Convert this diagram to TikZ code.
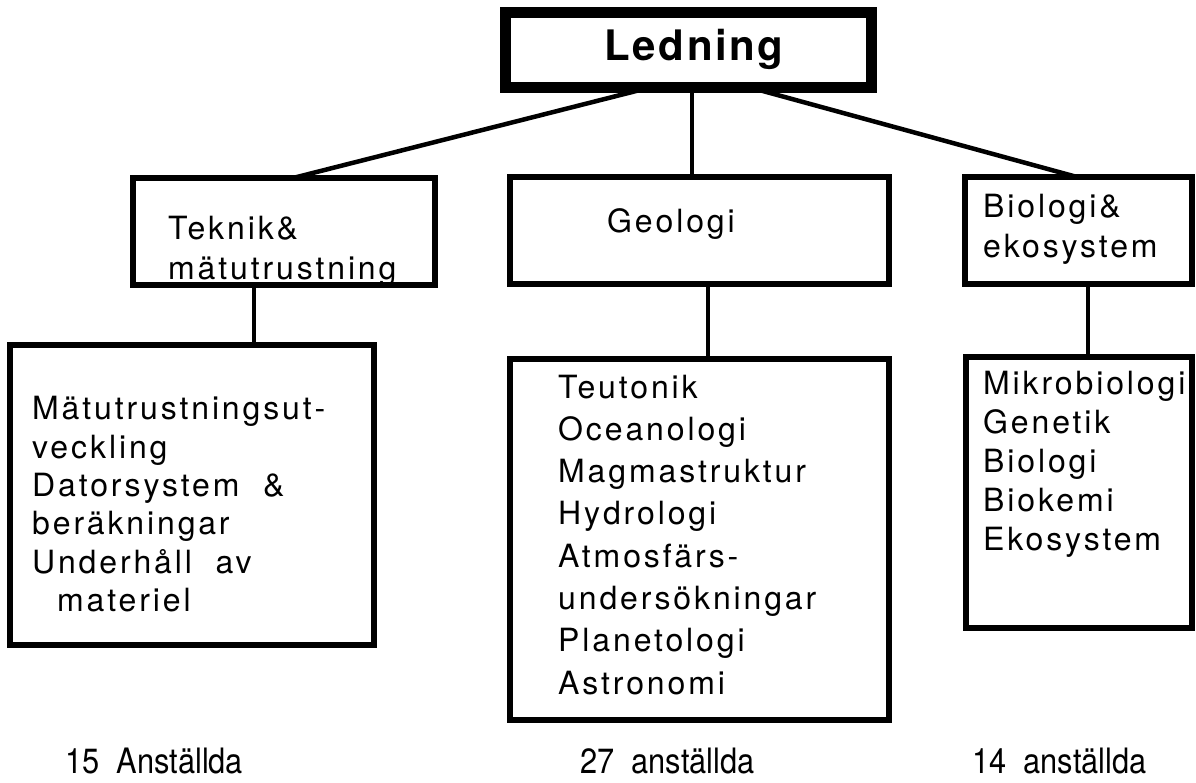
\documentclass[tikz,border=0pt]{standalone}
\usepackage{fontspec}
\setmainfont{TeX Gyre Heros}
\newfontfamily\bodyfont[LetterSpace=9]{TeX Gyre Heros}
\newfontfamily\headfont[LetterSpace=6]{TeX Gyre Heros}
\newfontfamily\footfont[FakeStretch=0.88]{TeX Gyre Heros}
\begin{document}
\begin{tikzpicture}[x=1pt,y=-1pt,
  box/.style={draw, line width=6pt, inner sep=0pt, outer sep=0pt},
  headbox/.style={draw, line width=11pt, inner sep=0pt, outer sep=0pt},
  lbl/.style={anchor=base west, inner sep=0pt, font=\bodyfont\fontsize{32}{38}\selectfont},
  foot/.style={anchor=base west, inner sep=0pt, font=\footfont\fontsize{35}{40}\selectfont},
  conn/.style={line width=4.5pt}]
\useasboundingbox (0,0) rectangle (1196,783);
% boxes
\node[headbox, minimum width=366pt, minimum height=75pt] (led) at (688.5,50) {};
\node[box, minimum width=302pt, minimum height=107pt] (tek) at (284,231.5) {};
\node[box, minimum width=379pt, minimum height=107pt] (geo) at (699.5,230.5) {};
\node[box, minimum width=227pt, minimum height=107pt] (bio) at (1078.5,230.5) {};
\node[box, minimum width=364pt, minimum height=300pt] (tekl) at (192,495) {};
\node[box, minimum width=379pt, minimum height=361pt] (geol) at (699.5,539.5) {};
\node[box, minimum width=226pt, minimum height=271pt] (biol) at (1079,492.5) {};
% connectors
\draw[conn] ([xshift=-38.5pt]led.south) -- ([xshift=9pt]tek.north);
\draw[conn] ([xshift=3.5pt]led.south) -- ([xshift=3.5pt]led.south |- geo.north);
\draw[conn] ([xshift=61.5pt]led.south) -- ([xshift=-1.5pt]bio.north);
\draw[conn] ([xshift=-30pt]tek.south) -- ([xshift=-30pt]tek.south |- tekl.north);
\draw[conn] ([xshift=8.5pt]geo.south) -- ([xshift=8.5pt]geo.south |- geol.north);
\draw[conn] ([xshift=9.5pt]bio.south) -- ([xshift=9.5pt]bio.south |- biol.north);
% texts
\node[anchor=base, inner sep=0pt, font=\headfont\bfseries\fontsize{42}{48}\selectfont] (ledt) at (694,61) {Ledning};
\node[lbl] (tek1) at (168,240) {Teknik\&};
\node[lbl] (tek2) at (168,280) {mätutrustning};
\node[lbl] (geot) at (607,233) {Geologi};
\node[lbl] (bio1) at (983,218) {Biologi\&};
\node[lbl] (bio2) at (983,258) {ekosystem};
\node[lbl] (tl1) at (32,419) {Mätutrustningsut-};
\node[lbl] (tl2) at (32,458) {veckling};
\node[lbl] (tl3) at (32,496) {Datorsystem\ \ \&};
\node[lbl] (tl4) at (32,534) {beräkningar};
\node[lbl] (tl5) at (32,573) {Underhåll\ \ av};
\node[lbl] (tl6) at (57,611) {materiel};
\foreach \t [count=\i] in {Teutonik,Oceanologi,Magmastruktur,Hydrologi,Atmosfärs-,undersökningar,Planetologi,Astronomi}
  \node[lbl] (gl\i) at (558,{398+42.3*(\i-1)}) {\t};
\foreach \t [count=\i] in {Mikrobiologi,Genetik,Biologi,Biokemi,Ekosystem}
  \node[lbl] (bl\i) at (983,{394+39*(\i-1)}) {\t};
\node[foot] (f1) at (65,773) {15\ \ Anställda};
\node[foot] (f2) at (580,773) {27\ \ anställda};
\node[foot] (f3) at (972,773) {14\ \ anställda};
\end{tikzpicture}
\end{document}
